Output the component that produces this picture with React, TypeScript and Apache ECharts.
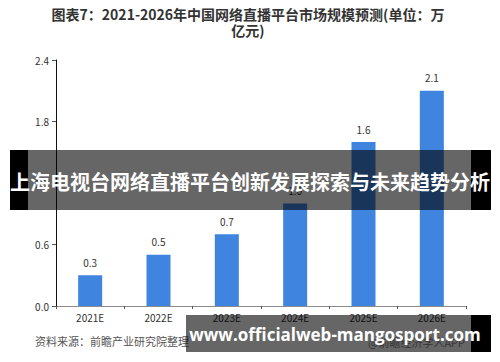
import React, { useEffect, useRef } from "react";
import * as echarts from "echarts";

const categories = ["2021E", "2022E", "2023E", "2024E", "2025E", "2026E"];
const values = [0.3, 0.5, 0.7, 1.0, 1.6, 2.1];
const yTicks = { min: 0, max: 2.4, interval: 0.6 };
const titleText = "图表7：2021-2026年中国网络直播平台市场规模预测(单位：万\n亿元)";
const sourceText = "资料来源：前瞻产业研究院整理";
const creditText = "@前瞻经济学人APP";
const bannerText = "上海电视台网络直播平台创新发展探索与未来趋势分析";
const urlText = "www.officialweb-mangosport.com";

const CJK = '"Noto Sans CJK SC", "Noto Sans", sans-serif';

export default function App() {
  const ref = useRef<HTMLDivElement>(null);
  useEffect(() => {
    if (!ref.current) return;
    const chart = echarts.init(ref.current, null, { renderer: "svg" });
    chart.setOption({
      animation: false,
      backgroundColor: "#ffffff",
      grid: { left: 56, right: 34, top: 60, bottom: 56, containLabel: false },
      xAxis: {
        type: "category",
        data: categories,
        axisLine: { lineStyle: { color: "#8c8c8c", width: 1 } },
        axisTick: { show: true, alignWithLabel: false, length: 3, lineStyle: { color: "#555" } },
        axisLabel: { color: "#333", fontSize: 10, fontFamily: CJK, margin: 6 },
      },
      yAxis: {
        type: "value",
        min: yTicks.min,
        max: yTicks.max,
        interval: yTicks.interval,
        splitLine: { show: false },
        axisLine: { show: true, lineStyle: { color: "#111", width: 1 } },
        axisTick: { show: true, length: 4, lineStyle: { color: "#555" } },
        axisLabel: {
          color: "#333",
          fontSize: 10,
          fontFamily: CJK,
          margin: 7,
          formatter: (v: number) => v.toFixed(1),
        },
      },
      series: [
        {
          type: "bar",
          data: values,
          barWidth: 24,
          itemStyle: { color: "#3f85e0" },
          label: {
            show: true,
            position: "top",
            distance: 8,
            color: "#333",
            fontSize: 10,
            fontFamily: CJK,
            formatter: (p: any) => Number(p.value).toFixed(1),
          },
        },
      ],
      graphic: [
        {
          type: "text",
          x: 248,
          y: 6,
          style: {
            text: titleText,
            fill: "#333",
            fontSize: 14,
            fontWeight: "bold",
            fontFamily: CJK,
            lineHeight: 16,
            align: "center",
            verticalAlign: "top",
          },
        },
        {
          type: "text",
          x: 35,
          y: 335,
          style: { text: sourceText, fill: "#555", fontSize: 11, fontFamily: CJK },
        },
        {
          type: "text",
          x: 368,
          y: 336,
          style: { text: creditText, fill: "#888", fontSize: 11, fontFamily: CJK },
        },
        { type: "rect", shape: { x: 10, y: 150, width: 18, height: 60 }, style: { fill: "#000" }, z: 100 },
        { type: "rect", shape: { x: 471, y: 150, width: 20, height: 60 }, style: { fill: "#000" }, z: 100 },
        {
          type: "rect",
          shape: { x: 28, y: 150, width: 443, height: 60 },
          style: { fill: "rgba(0,0,0,0.6)" },
          z: 100,
        },
        {
          type: "text",
          x: 250,
          y: 181,
          style: {
            text: bannerText,
            fill: "#fff",
            fontSize: 20,
            fontWeight: "bold",
            fontFamily: CJK,
            align: "center",
            verticalAlign: "middle",
          },
          z: 101,
        },
        { type: "rect", shape: { x: 471, y: 315, width: 20, height: 37 }, style: { fill: "#000" }, z: 100 },
        {
          type: "rect",
          shape: { x: 186, y: 315, width: 285, height: 37 },
          style: { fill: "rgba(0,0,0,0.6)" },
          z: 100,
        },
        {
          type: "text",
          x: 335,
          y: 334,
          style: {
            text: urlText,
            fill: "#fff",
            fontSize: 17,
            fontWeight: "bold",
            fontFamily: '"Open Sans", sans-serif',
            align: "center",
            verticalAlign: "middle",
          },
          z: 101,
        },
      ],
    });
    return () => chart.dispose();
  }, []);
  return <div ref={ref} style={{ width: 500, height: 362, position: "absolute", left: 0, top: 0 }} />;
}
